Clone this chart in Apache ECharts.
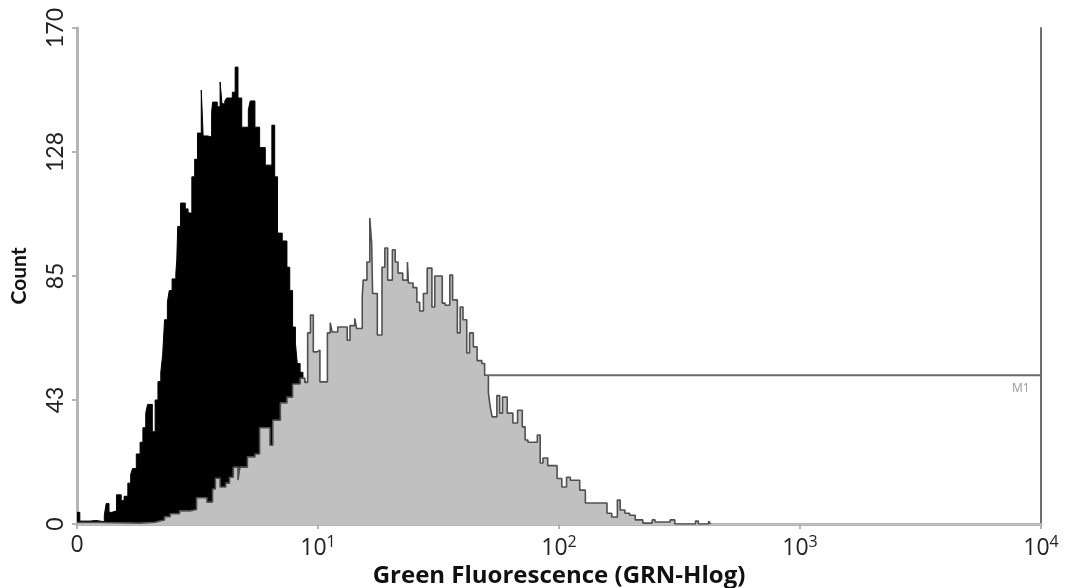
<!DOCTYPE html>
<html>
<head>
<meta charset="utf-8">
<script src="https://cdn.jsdelivr.net/npm/echarts@6/dist/echarts.min.js"></script>
<style>
  html, body { margin: 0; padding: 0; background: #ffffff; }
  #chart { width: 1076px; height: 588px; }
</style>
</head>
<body>
<div id="chart"></div>
<script>
// Histogram channels: 1024 channels over 4 decades (256 channels per decade).
const CHANNELS_PER_DECADE = 256;

// Unstained control (black histogram): channel where each step starts, and its count.
const controlChannels = [0, 3, 14, 20, 29, 31, 34, 37, 42, 47, 50, 54, 57, 59, 63, 67, 70, 73, 75, 80,
  83, 86, 89, 91, 93, 96, 98, 101, 105, 106, 107, 110, 115, 118, 122, 125, 128, 132, 134, 139,
  143, 144, 149, 152, 154, 157, 159, 165, 168, 171, 175, 182, 184, 189, 194, 200, 207, 210, 213, 218,
  223, 226, 229, 232, 234, 237, 240, 243, 247, 253, 258, 264, 271];
const controlCounts = [4, 1, 1.2, 0.8, 3, 7, 4, 4.5, 10, 8, 9.5, 14, 17, 19, 24, 28, 33, 38, 41, 31.6,
  42.5, 48.8, 52, 58, 70, 76, 80, 84, 86, 90.5, 102, 110, 108, 106.6, 119, 125, 134, 148.7, 133, 132.6,
  141, 144.6, 143, 151.5, 144, 145, 146, 148, 156.6, 146, 136, 142, 145, 136, 129, 123, 136.7, 119, 99.7, 97,
  88, 80, 67.5, 62, 55, 52, 49, 40, 30, 18, 8, 2, 0];

// Stained sample (grey histogram).
const stainedChannels = [0, 24, 67, 83, 88, 93, 99, 109, 120, 127, 138, 144, 147, 152, 158, 162, 166, 171, 173, 181,
  189, 194, 202, 205, 208, 216, 223, 229, 237, 242, 245, 248, 251, 255, 258, 266, 269, 271, 277, 287,
  290, 295, 297, 303, 304, 308, 311, 313, 314, 319, 324, 327, 330, 335, 338, 341, 346, 351, 352, 357,
  361, 364, 368, 372, 377, 380, 388, 391, 396, 399, 404, 407, 410, 414, 417, 421, 425, 430, 433, 437,
  439, 441, 446, 449, 452, 457, 463, 468, 473, 476, 479, 489, 492, 495, 500, 510, 515, 520, 524, 534,
  540, 563, 568, 574, 577, 582, 587, 593, 601, 611, 614, 630, 635, 657, 660, 671, 673];
const stainedCounts = [0.5, 0.3, 0.6, 1, 1.4, 2.5, 3.5, 4.5, 5, 9, 7.5, 12, 15.7, 12.7, 14, 16, 19.5, 15, 19.5, 23,
  24, 33, 33, 27, 35.6, 41.5, 43.5, 48, 50, 48.5, 65.5, 71.6, 59, 59.6, 48.7, 65.5, 69, 65.8, 67.5, 63,
  68, 70.5, 67, 77.8, 83.6, 89.8, 104.9, 96.3, 79, 64.8, 88, 94.6, 83.6, 94, 89.8, 86, 83.6, 89.8, 82.6, 81,
  76, 73, 79, 87.7, 74.4, 85, 75.7, 75, 85.3, 76.8, 65.5, 74.4, 70, 58.6, 65.5, 60.7, 56, 55, 51, 45,
  40, 36.7, 44, 38, 43.5, 38, 34.6, 39, 33.3, 28.8, 28, 30.5, 20.9, 22.6, 20, 15.6, 12.7, 16, 15, 11.6,
  7.2, 3.7, 2.4, 8.2, 4.8, 3.7, 3, 1.4, 0.3, 1.4, 0.7, 1.4, 0, 1, 0, 1, 0];

// M1 gate: fluorescence range and the height at which its bar is drawn.
const m1Range = [50.4, 10000];
const m1Level = 51;

// Axis tick labels.
const countTickLabels = ['0', '43', '85', '128', '170'];
const decadeTickLabels = ['0', '10{sup|1}', '10{sup|2}', '10{sup|3}', '10{sup|4}'];

const toFluorescence = ch => Math.pow(10, ch / CHANNELS_PER_DECADE);
const toPairs = (chs, counts) => chs.map((c, i) => [toFluorescence(c), counts[i]]);

const FONT = 'Lato, "Open Sans", sans-serif';
const WIDE_FONT = '"Open Sans", Lato, sans-serif';

const chart = echarts.init(document.getElementById('chart'), null, { renderer: 'canvas' });

chart.setOption({
  animation: false,
  backgroundColor: '#ffffff',
  grid: { left: 77, right: 35, top: 28, bottom: 64, containLabel: false, outerBoundsMode: 'none' },
  xAxis: [{
    type: 'log',
    logBase: 10,
    min: 1,
    max: 10000,
    name: 'Green Fluorescence (GRN-Hlog)',
    nameLocation: 'middle',
    nameGap: 36,
    nameTextStyle: { fontFamily: WIDE_FONT, fontWeight: 'bold', fontSize: 24, color: '#111' },
    axisLine: { show: true, lineStyle: { color: '#b4b4b4', width: 3 } },
    axisTick: { show: true, length: 5, lineStyle: { color: '#b4b4b4', width: 2 } },
    minorTick: { show: false },
    splitLine: { show: false },
    axisLabel: {
      margin: 10,
      fontFamily: WIDE_FONT,
      fontSize: 23,
      color: '#222',
      formatter: v => decadeTickLabels[Math.round(Math.log10(v))],
      rich: {
        sup: { fontFamily: WIDE_FONT, fontSize: 16, color: '#222', verticalAlign: 'top', lineHeight: 28 }
      }
    }
  }, {
    type: 'log',
    logBase: 10,
    min: 1,
    max: 10000,
    position: 'top',
    axisLine: { show: true, lineStyle: { color: '#c4c4c4', width: 1 } },
    axisTick: { show: false },
    axisLabel: { show: false },
    splitLine: { show: false }
  }],
  yAxis: [{
    type: 'value',
    min: 0,
    max: 170,
    interval: 42.5,
    name: 'Count',
    nameLocation: 'middle',
    nameGap: 47,
    nameRotate: 90,
    nameTextStyle: { fontFamily: FONT, fontWeight: 'bold', fontSize: 21, color: '#111' },
    axisLine: { show: true, lineStyle: { color: '#b4b4b4', width: 3 } },
    axisTick: { show: true, length: 5, lineStyle: { color: '#b4b4b4', width: 2 } },
    splitLine: { show: false },
    axisLabel: {
      rotate: 90,
      margin: 10,
      fontFamily: FONT,
      fontSize: 23,
      color: '#222',
      formatter: v => countTickLabels[Math.round(v / 42.5)]
    }
  }, {
    type: 'value',
    min: 0,
    max: 170,
    position: 'right',
    axisLine: { show: true, lineStyle: { color: '#6e6e6e', width: 2 } },
    axisTick: { show: false },
    axisLabel: { show: false },
    splitLine: { show: false }
  }],
  series: [{
    name: 'Control',
    type: 'line',
    step: 'end',
    showSymbol: false,
    data: toPairs(controlChannels, controlCounts),
    lineStyle: { color: '#000', width: 1 },
    areaStyle: { color: '#000', opacity: 1 },
    z: 2
  }, {
    name: 'Stained',
    type: 'line',
    step: 'end',
    showSymbol: false,
    data: toPairs(stainedChannels, stainedCounts),
    lineStyle: { color: '#505050', width: 1.6 },
    areaStyle: { color: '#c0c0c0', opacity: 1 },
    z: 3
  }, {
    name: 'M1',
    type: 'line',
    showSymbol: false,
    data: [[m1Range[0], m1Level], [m1Range[1], m1Level]],
    lineStyle: { color: '#6a6a6a', width: 2 },
    endLabel: {
      show: true,
      formatter: 'M1',
      offset: [-37, 13],
      fontFamily: WIDE_FONT,
      fontSize: 12,
      color: '#9a9a9a'
    },
    z: 4
  }]
});
</script>
</body>
</html>
